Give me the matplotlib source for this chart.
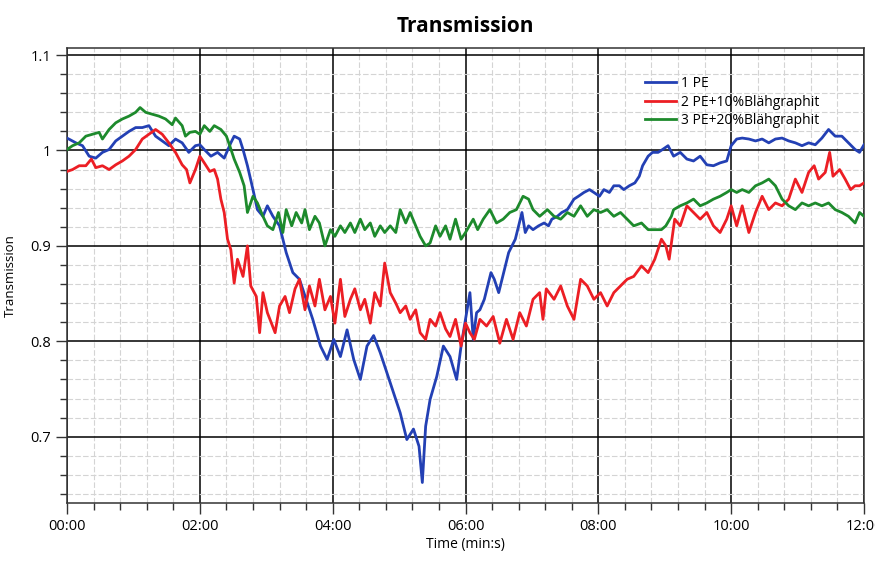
import matplotlib
matplotlib.use("Agg")
import matplotlib.pyplot as plt
from matplotlib.ticker import MultipleLocator, FuncFormatter

plt.rcParams["font.family"] = ["Open Sans", "DejaVu Sans"]

# time in seconds, transmission values
t_pe = [0, 8, 14, 20, 26, 32, 38, 44, 50, 56, 62, 68, 74, 80, 86, 92, 98, 104, 110, 116,
        120, 124, 130, 136, 142, 148, 151, 156, 159, 163, 168, 172, 177, 181,
        186, 192, 198, 204, 210, 216, 222, 229, 235, 241, 247, 253, 259, 265, 271, 277,
        283, 289, 295, 301, 307, 313, 318, 321, 324, 328, 334, 340, 346, 352, 356, 360,
        364, 367, 370, 373, 377, 383, 386, 390, 393, 396, 399, 402, 405, 408, 411, 414,
        417, 421, 426, 431, 435, 438, 443, 447, 452, 458, 462, 467, 472, 476, 481, 485,
        490, 494, 499, 503, 508, 513, 517, 520, 525, 529, 534, 538, 543, 548, 554, 560,
        566, 572, 578, 584, 590, 596, 600, 605, 610, 616, 622, 628, 634, 640, 646, 652,
        658, 664, 670, 676, 682, 688, 694, 700, 706, 712, 716, 720]
pe = [1.013, 1.008, 1.005, 0.994, 0.992, 0.998, 1.001, 1.010, 1.015, 1.020, 1.024, 1.024,
      1.026, 1.015, 1.010, 1.005, 1.012, 1.008, 0.998, 1.005,
      1.006, 1.001, 0.994, 0.998, 0.992, 1.008, 1.015, 1.012, 1.001, 0.984, 0.959, 0.938,
      0.931, 0.942,
      0.931, 0.921, 0.893, 0.872, 0.865, 0.844, 0.823, 0.795, 0.781, 0.802, 0.784, 0.812,
      0.781, 0.760, 0.795, 0.806, 0.788, 0.767, 0.746, 0.725, 0.697, 0.708, 0.690, 0.652,
      0.711, 0.739, 0.763, 0.795, 0.784, 0.760, 0.795, 0.823,
      0.851, 0.802, 0.830, 0.833, 0.844, 0.872, 0.865, 0.851, 0.865, 0.879, 0.893, 0.900,
      0.907, 0.921, 0.935, 0.914, 0.921, 0.917, 0.921, 0.924, 0.921, 0.928, 0.931, 0.935,
      0.938, 0.949, 0.952, 0.956, 0.959, 0.956, 0.952, 0.959, 0.956, 0.963, 0.963, 0.959,
      0.963, 0.966, 0.973, 0.984, 0.994, 0.998, 0.998, 1.001, 1.005, 0.994, 0.998, 0.991,
      0.989, 0.994, 0.985, 0.984, 0.987, 0.989, 1.005, 1.012, 1.013, 1.012, 1.010, 1.012,
      1.008, 1.012, 1.013, 1.010, 1.008, 1.005, 1.008, 1.006, 1.013, 1.022, 1.015, 1.015,
      1.008, 1.001, 0.998, 1.006]

t_pe10 = [0, 5, 11, 17, 22, 26, 32, 38, 44, 50, 56, 62, 68, 74, 80, 86, 92, 98, 104, 108,
          111, 116, 120, 124, 129, 133, 136, 139, 142, 145, 148, 151, 154, 159, 163, 166,
          171, 174, 177, 181, 188, 192, 197, 201, 206, 210, 215, 219, 224, 228, 233, 238,
          242, 247, 251, 256, 260, 265, 269, 274, 278, 283, 287, 292, 297, 301, 306, 310,
          315, 319, 324, 328, 333, 337, 342, 346, 351, 356, 360, 364, 368, 373, 379, 385,
          391, 397, 403, 409, 415, 421, 427, 430, 433, 440, 446, 452, 458, 464, 470, 476,
          482, 488, 494, 500, 506, 512, 519, 525, 531, 537, 541, 544, 549, 554, 560, 566,
          572, 578, 584, 590, 596, 600, 605, 610, 616, 622, 628, 634, 640, 646, 652, 658,
          664, 670, 675, 679, 685, 689, 692, 698, 703, 708, 712, 716, 720]
pe10 = [0.978, 0.980, 0.984, 0.984, 0.991, 0.982, 0.984, 0.980, 0.985, 0.989, 0.994, 1.001,
        1.012, 1.017, 1.022, 1.017, 1.008, 0.998, 0.985, 0.980,
        0.966, 0.980, 0.994, 0.987, 0.978, 0.980, 0.970, 0.949, 0.935, 0.907, 0.896, 0.861,
        0.886, 0.868, 0.900, 0.858,
        0.847, 0.809, 0.851, 0.830, 0.809, 0.837, 0.847, 0.830, 0.855, 0.865, 0.833, 0.858,
        0.837, 0.865, 0.833, 0.847,
        0.819, 0.865, 0.826, 0.844, 0.855, 0.833, 0.844, 0.819, 0.851, 0.837, 0.882, 0.851,
        0.840, 0.830, 0.837, 0.823,
        0.833, 0.809, 0.802, 0.823, 0.816, 0.830, 0.813, 0.805, 0.823, 0.795, 0.819, 0.809,
        0.802, 0.823, 0.816, 0.826,
        0.798, 0.823, 0.802, 0.830, 0.816, 0.844, 0.851, 0.823, 0.855, 0.844, 0.858, 0.837,
        0.823, 0.865, 0.858, 0.844,
        0.851, 0.837, 0.851, 0.858, 0.865, 0.868, 0.879, 0.872, 0.886, 0.907, 0.900, 0.886,
        0.928, 0.921, 0.942, 0.935,
        0.928, 0.935, 0.921, 0.914, 0.928, 0.942, 0.921, 0.942, 0.914, 0.935, 0.952, 0.938,
        0.945, 0.942, 0.949, 0.970,
        0.956, 0.977, 0.984, 0.970, 0.977, 0.998, 0.973, 0.980, 0.970, 0.959, 0.963, 0.963,
        0.966]

t_pe20 = [0, 5, 11, 17, 23, 29, 32, 38, 44, 50, 56, 62, 66, 71, 77, 83, 89, 95, 98, 104,
          107, 111, 116, 120, 124, 129, 133, 139, 144, 147, 151, 156, 160, 163, 168, 172,
          177, 181, 186, 191, 195, 198, 203, 207, 212, 215, 219, 224, 228, 233, 238, 242,
          247, 251, 256, 260, 265, 269, 274, 278, 283, 287, 292, 297, 301, 306, 310, 315,
          319, 324, 328, 333, 337, 342, 346, 351, 356, 360, 367, 371, 376, 382, 388, 394,
          400, 406, 412, 417, 421, 427, 434, 440, 446, 452, 458, 464, 470, 476, 482, 488,
          494, 500, 506, 512, 519, 525, 531, 537, 541, 546, 548, 554, 560, 566, 572, 578,
          584, 590, 596, 600, 605, 610, 616, 622, 628, 634, 640, 646, 652, 658, 664, 670,
          676, 682, 688, 694, 700, 706, 712, 716, 720]
pe20 = [1.001, 1.005, 1.008, 1.015, 1.017, 1.019, 1.012, 1.022, 1.029, 1.033, 1.036, 1.040,
        1.045, 1.040, 1.038, 1.036, 1.033, 1.027, 1.034, 1.026,
        1.015, 1.019, 1.020, 1.017, 1.026, 1.020, 1.026, 1.022, 1.015, 1.005, 0.991, 0.977,
        0.963, 0.935, 0.952, 0.945,
        0.931, 0.921, 0.917, 0.935, 0.914, 0.938, 0.921, 0.935, 0.924, 0.938, 0.917, 0.931,
        0.924, 0.900, 0.917, 0.910,
        0.921, 0.914, 0.924, 0.914, 0.928, 0.917, 0.924, 0.910, 0.921, 0.914, 0.921, 0.914,
        0.938, 0.924, 0.935, 0.921,
        0.910, 0.900, 0.903, 0.921, 0.910, 0.921, 0.907, 0.928, 0.907, 0.914, 0.928, 0.917,
        0.928, 0.938, 0.924, 0.928,
        0.935, 0.938, 0.952, 0.949, 0.938, 0.931, 0.938, 0.931, 0.928, 0.935, 0.931, 0.942,
        0.931, 0.938, 0.935, 0.938,
        0.931, 0.935, 0.928, 0.921, 0.924, 0.917, 0.917, 0.917, 0.921, 0.931, 0.938, 0.942,
        0.945, 0.949, 0.942, 0.945,
        0.949, 0.952, 0.956, 0.959, 0.956, 0.959, 0.956, 0.963, 0.966, 0.970, 0.963, 0.949,
        0.942, 0.938, 0.945, 0.942,
        0.945, 0.942, 0.945, 0.938, 0.935, 0.931, 0.924, 0.935, 0.931]

labels = ["1 PE", "2 PE+10%Blähgraphit", "3 PE+20%Blähgraphit"]
colors = ["#2340b4", "#ec1e24", "#1d8a2c"]


def mmss(x, pos):
    return f"{int(x) // 60:02d}:{int(x) % 60:02d}"


fig = plt.figure(figsize=(8.75, 5.68), dpi=100)
ax = fig.add_axes([0.0766, 0.1144, 0.9108, 0.8016])

for t, v, lab, c in zip([t_pe, t_pe10, t_pe20], [pe, pe10, pe20], labels, colors):
    ax.plot(t, v, color=c, lw=2.0, label=lab, zorder=3)

ax.set_xlim(0, 720)
ax.set_ylim(0.6305, 1.1077)
ax.xaxis.set_major_locator(MultipleLocator(120))
ax.xaxis.set_minor_locator(MultipleLocator(24))
ax.yaxis.set_major_locator(MultipleLocator(0.1))
ax.yaxis.set_minor_locator(MultipleLocator(0.02))
ax.xaxis.set_major_formatter(FuncFormatter(mmss))
ax.yaxis.set_major_formatter(FuncFormatter(lambda y, p: f"{y:g}"))

ax.grid(which="major", color="black", lw=1.1, zorder=1)
ax.grid(which="minor", color="#d4d4d4", lw=0.8, ls=(0, (5, 2)), zorder=0)
ax.tick_params(which="major", length=8, width=1, labelsize=10.5, color="#333333")
ax.tick_params(which="minor", length=5, width=1, color="#333333")
for s in ax.spines.values():
    s.set_color("#333333")
    s.set_linewidth(1.1)

ax.set_title("Transmission", fontsize=15, fontweight="bold", pad=11)
ax.set_xlabel("Time (min:s)", fontsize=10, labelpad=2)
ax.set_ylabel("Transmission", fontsize=9.5, labelpad=10)

ax.legend(loc="upper left", bbox_to_anchor=(0.71, 0.965), frameon=False,
          fontsize=10, handlelength=2.2, handletextpad=0.35, labelspacing=0.25)

fig.savefig("out.png", dpi=100)
